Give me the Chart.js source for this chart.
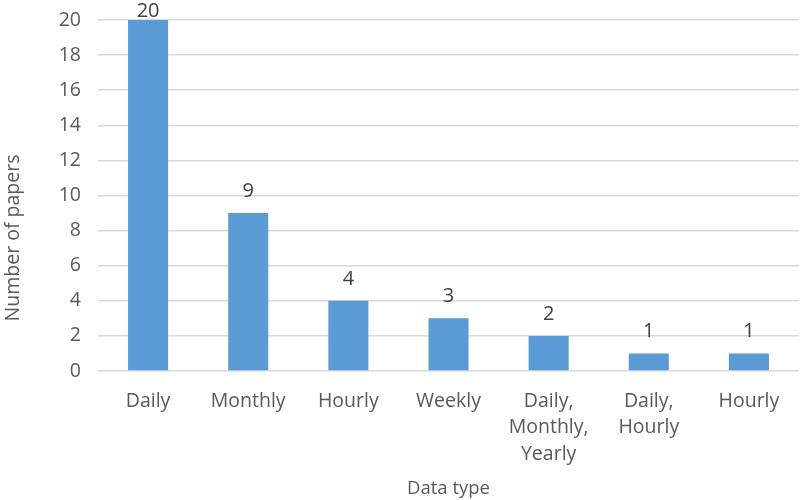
<!DOCTYPE html>
<html>
<head>
<meta charset="utf-8">
<script src="https://cdn.jsdelivr.net/npm/chart.js@4"></script>
<style>
  html, body { margin: 0; padding: 0; background: #fff; }
  #wrap { width: 800px; height: 500px; }
</style>
</head>
<body>
<div id="wrap"><canvas id="myChart"></canvas></div>
<script>
// categories and counts
const categories = [
  'Daily',
  'Monthly',
  'Hourly',
  'Weekly',
  ['Daily,', 'Monthly,', 'Yearly'],
  ['Daily,', 'Hourly'],
  'Hourly'
];
const papers = [20, 9, 4, 3, 2, 1, 1];
const yTicks = [0, 2, 4, 6, 8, 10, 12, 14, 16, 18, 20];

const FONT = "'Open Sans', sans-serif";
const TEXT = '#595959';

// value labels above each bar + the y axis title (sits lower than the plot centre)
const extras = {
  id: 'extras',
  afterDatasetsDraw(chart) {
    const c = chart.ctx;
    const meta = chart.getDatasetMeta(0);
    c.save();
    c.font = '20px ' + FONT;
    c.fillStyle = '#404040';
    c.textAlign = 'center';
    c.textBaseline = 'alphabetic';
    meta.data.forEach((bar, i) => {
      const y = Math.max(bar.y - 16, 17);
      c.fillText(String(papers[i]), bar.x, y);
    });
    c.restore();

    c.save();
    c.font = '19.5px ' + FONT;
    c.fillStyle = TEXT;
    c.textAlign = 'center';
    c.textBaseline = 'middle';
    c.translate(13, 238);
    c.rotate(-Math.PI / 2);
    c.fillText('Number of papers', 0, 0);
    c.restore();
  }
};

const ctx = document.getElementById('myChart');

const data = {
  labels: categories,
  datasets: [{
    label: 'Number of papers',
    data: papers,
    backgroundColor: '#5b9bd5',
    barPercentage: 0.4,
    categoryPercentage: 1.0
  }]
};

const config = {
  type: 'bar',
  data: data,
  options: {
    responsive: true,
    maintainAspectRatio: false,
    animation: false,
    layout: { padding: { top: 20, right: 1, left: 0, bottom: 0 } },
    plugins: {
      legend: { display: false },
      tooltip: { enabled: false }
    },
    scales: {
      x: {
        grid: { display: false },
        border: { display: false },
        ticks: {
          color: TEXT,
          font: { size: 19.5, family: FONT, lineHeight: 1.36 },
          padding: 9,
          maxRotation: 0,
          autoSkip: false
        },
        title: {
          display: true,
          text: 'Data type',
          color: TEXT,
          font: { size: 18.5, family: FONT },
          padding: 0
        },
        afterFit(scale) {
          scale.height = 129;
          scale.paddingLeft = 0;
          scale.paddingRight = 0;
        }
      },
      y: {
        min: 0,
        max: 20,
        afterBuildTicks(scale) { scale.ticks = yTicks.map(v => ({ value: v })); },
        grid: { color: '#d9d9d9', lineWidth: 1.5, drawTicks: false },
        border: { display: false },
        ticks: {
          color: TEXT,
          font: { size: 19.5, family: FONT },
          padding: 17
        },
        afterFit(scale) {
          scale.width = 98;
          scale.paddingTop = 0;
          scale.paddingBottom = 0;
        }
      }
    }
  },
  plugins: [extras]
};

const myChart = new Chart(ctx, config);
</script>
</body>
</html>
